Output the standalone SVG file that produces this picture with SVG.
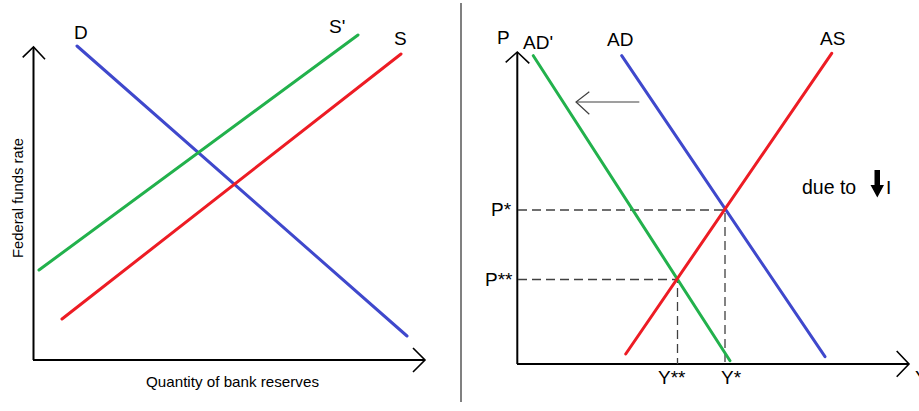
<svg xmlns="http://www.w3.org/2000/svg" width="919" height="411" viewBox="0 0 919 411">
<style>
.ax{stroke:#000;stroke-width:2;fill:none}
.ah{stroke:#000;stroke-width:1.6;fill:none}
.c{stroke-width:3;fill:none;stroke-linecap:round}
.blue{stroke:#3f48cc}
.green{stroke:#22b14c}
.red{stroke:#ed1c24}
.dash{stroke:#404040;stroke-width:1.3;stroke-dasharray:9 5;fill:none}
.lbl{font-family:"Liberation Sans",Arial,sans-serif;font-size:19px;fill:#000}
.axl{font-family:"Liberation Sans",Arial,sans-serif;font-size:15px;fill:#000}
</style>
<rect width="919" height="411" fill="#fff"/>
<g id="left-panel">
  <g id="left-axes">
    <line class="ax" x1="33.5" y1="47" x2="33.5" y2="360"/>
    <polyline class="ah" points="22.7,57.3 33.5,47 45,59.3"/>
    <line class="ax" x1="33" y1="360" x2="425" y2="360"/>
    <polyline class="ah" points="413,348 425,360 413,372"/>
    <text class="axl" transform="translate(23,198) rotate(-90)" text-anchor="middle" textLength="120" lengthAdjust="spacingAndGlyphs">Federal funds rate</text>
    <text class="axl" x="146" y="387" textLength="173" lengthAdjust="spacingAndGlyphs">Quantity of bank reserves</text>
  </g>
  <g id="left-curves">
    <line class="c blue" x1="77" y1="46" x2="407" y2="336"/>
    <line class="c green" x1="39" y1="270" x2="358" y2="35"/>
    <line class="c red" x1="62" y1="319" x2="401" y2="54"/>
  </g>
  <text class="lbl" x="74" y="39">D</text>
  <text class="lbl" x="329" y="33">S'</text>
  <text class="lbl" x="394" y="45">S</text>
</g>
<line x1="461" y1="3" x2="461" y2="402" stroke="#808080" stroke-width="2"/>
<g id="right-panel">
  <g id="right-axes">
    <line class="ax" x1="517.3" y1="52" x2="517.3" y2="364"/>
    <polyline class="ah" points="505.7,62.3 517.3,52 529.3,63.3"/>
    <line class="ax" x1="517" y1="364" x2="909" y2="364"/>
    <polyline class="ah" points="896.7,351 909,364 896.7,376.7"/>
  </g>
  <g id="guides">
    <polyline class="dash" points="518,210 725,210 725,364"/>
    <polyline class="dash" points="518,279.5 677.5,279.5 677.5,364"/>
  </g>
  <g id="right-curves">
    <line class="c green" x1="533.3" y1="55.7" x2="730" y2="360.7"/>
    <line class="c blue" x1="621.7" y1="55.7" x2="825" y2="356.7"/>
    <line class="c red" x1="625.7" y1="354" x2="831.7" y2="53.3"/>
  </g>
  <g id="shift-arrow">
    <line x1="576" y1="102" x2="639.3" y2="102" stroke="#404040" stroke-width="1.2"/>
    <polyline points="589.3,91.7 576,102 589.3,114.3" stroke="#404040" stroke-width="1.2" fill="none"/>
  </g>
  <text class="lbl" x="497" y="44">P</text>
  <text class="lbl" x="523" y="49">AD'</text>
  <text class="lbl" x="607" y="46">AD</text>
  <text class="lbl" x="820" y="45">AS</text>
  <text class="lbl" x="491" y="216">P*</text>
  <text class="lbl" x="485" y="286">P**</text>
  <text class="lbl" x="658" y="384">Y**</text>
  <text class="lbl" x="721" y="384">Y*</text>
  <text class="lbl" x="915" y="384">Y</text>
  <g id="note">
    <text class="lbl" x="802" y="194" style="font-size:19.5px">due to</text>
    <polygon points="874.5,170 880,170 880,185 884,185 877.3,197.5 870.5,185 874.5,185" fill="#000"/>
    <text class="lbl" x="886" y="194" style="font-size:19px">I</text>
  </g>
</g>
</svg>
